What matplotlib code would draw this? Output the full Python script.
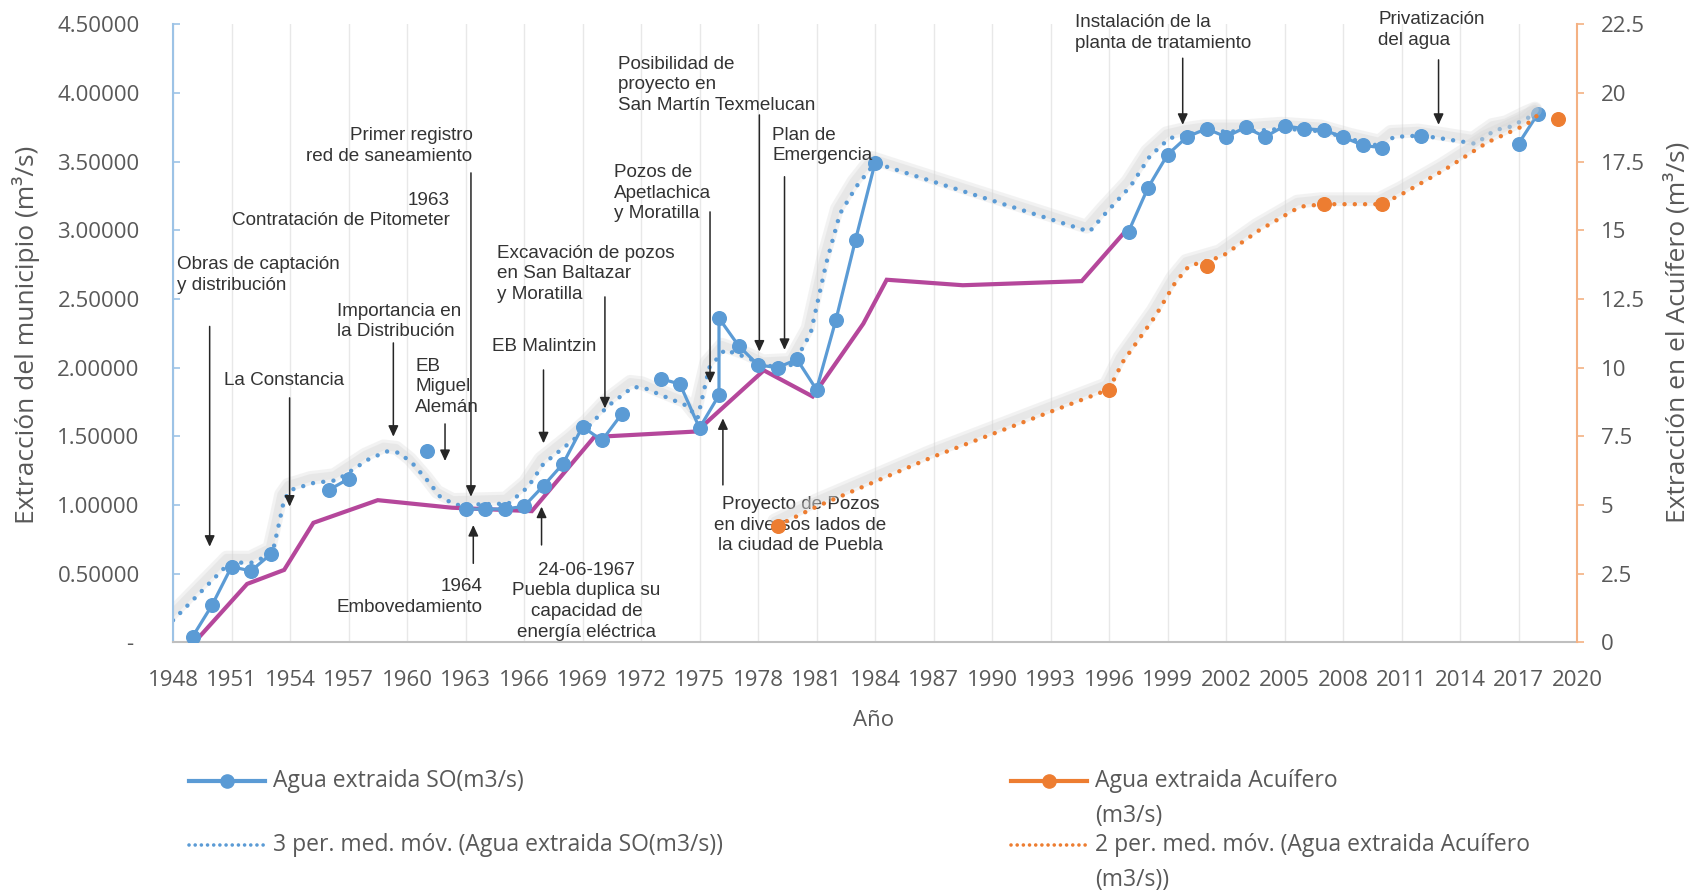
import numpy as np
import matplotlib
matplotlib.use("Agg")
import matplotlib.pyplot as plt
import matplotlib.transforms as mtransforms
from matplotlib.lines import Line2D

nan = np.nan

# ---------------- data ----------------
# Agua extraída SO (m3/s), left axis; NaN breaks the line where years are missing
so_years = [1949, 1950, 1951, 1952, 1953, 1954, 1956, 1957, 1958, 1961, 1962,
            1963, 1964, 1965, 1966, 1967, 1968, 1969, 1970, 1971, 1972,
            1973, 1974, 1975, 1976, 1976, 1977, 1978, 1979, 1980, 1981,
            1982, 1983, 1984, 1990, 1997, 1998, 1999, 2000, 2001, 2002,
            2003, 2004, 2005, 2006, 2007, 2008, 2009, 2010, 2011, 2012,
            2013, 2017, 2018]
so_values = [0.04, 0.27, 0.55, 0.52, 0.64, nan, 1.11, 1.19, nan, 1.39, nan,
             0.97, 0.97, 0.97, 0.99, 1.14, 1.30, 1.57, 1.47, 1.66, nan,
             1.92, 1.88, 1.56, 1.80, 2.36, 2.16, 2.02, 2.00, 2.06, 1.84,
             2.35, 2.93, 3.49, nan, 2.99, 3.31, 3.55, 3.68, 3.74, 3.68,
             3.75, 3.68, 3.76, 3.74, 3.73, 3.68, 3.62, 3.60, nan, 3.69,
             nan, 3.63, 3.85]

# 3 per. med. móv. (Agua extraída SO)
so_ma_years = [1948.0, 1950.9, 1952.1, 1953.1, 1953.4, 1953.7, 1954.05, 1955.2,
               1956.4, 1958.0, 1958.95, 1959.6, 1960.3, 1961.1, 1961.7, 1962.5,
               1965.2, 1966.2, 1967.0, 1968.5, 1969.3, 1970.3, 1971.6, 1972.2,
               1973.2, 1974.4, 1974.9, 1975.5, 1976.3, 1977.5, 1978.4, 1979.8,
               1980.7, 1981.5, 1982.2, 1983.05, 1984.0, 1995.0, 1995.8, 1997.1,
               1998.1, 1999.1, 2000.0, 2001.0, 2003.0, 2005.0, 2007.0, 2008.5,
               2010.0, 2010.6, 2012.0, 2013.0, 2014.8, 2015.8, 2016.5, 2017.5,
               2018.0]
so_ma_values = [0.16, 0.58, 0.58, 0.65, 0.84, 1.04, 1.11, 1.16,
                1.18, 1.33, 1.39, 1.38, 1.30, 1.17, 1.06, 1.00,
                1.01, 1.13, 1.30, 1.47, 1.57, 1.72, 1.86, 1.85,
                1.79, 1.72, 1.63, 2.00, 2.13, 2.07, 2.01, 2.02,
                2.25, 2.76, 3.12, 3.32, 3.49, 2.99, 3.12, 3.32,
                3.54, 3.67, 3.70, 3.72, 3.72, 3.74, 3.72, 3.66,
                3.61, 3.68, 3.69, 3.67, 3.63, 3.73, 3.75, 3.82,
                3.85]

# Agua extraída Acuífero (m3/s), right axis
aq_years = [1979, 1996, 2001, 2007, 2010, 2019]
aq_values = [4.25, 9.2, 13.7, 15.95, 15.95, 19.05]

# 2 per. med. móv. (Agua extraída Acuífero)
aq_ma_years = [1979.0, 1981.1, 1987.0, 1995.6, 1996.0, 1996.7, 1998.4, 1999.4,
               2000.1, 2001.8, 2003.7, 2005.8, 2007.0, 2010.0, 2011.1, 2013.2,
               2015.4, 2017.4, 2018.0]
aq_ma_values = [4.25, 4.97, 6.76, 9.10, 9.21, 10.2, 11.9, 13.1,
                13.7, 14.05, 15.0, 15.86, 15.95, 15.95, 16.35, 17.2,
                18.2, 18.85, 19.2]

# Magenta reference line, left axis
ref_years = [1949.1, 1951.8, 1953.7, 1955.2, 1958.5, 1962.3, 1966.4, 1969.6,
             1974.85, 1978.3, 1980.8, 1983.4, 1984.6, 1988.5, 1994.6, 1996.7]
ref_values = [0.0, 0.425, 0.527, 0.87, 1.035, 0.98, 0.955, 1.495,
              1.535, 1.98, 1.79, 2.32, 2.64, 2.60, 2.63, 2.97]

year_ticks = [1948, 1951, 1954, 1957, 1960, 1963, 1966, 1969, 1972, 1975,
              1978, 1981, 1984, 1987, 1990, 1993, 1996, 1999, 2002, 2005,
              2008, 2011, 2014, 2017, 2020]
left_ticks = [0, 0.5, 1.0, 1.5, 2.0, 2.5, 3.0, 3.5, 4.0, 4.5]
left_tick_labels = ["- ", "0.50000", "1.00000", "1.50000", "2.00000",
                    "2.50000", "3.00000", "3.50000", "4.00000", "4.50000"]
right_ticks = [0, 2.5, 5, 7.5, 10, 12.5, 15, 17.5, 20, 22.5]
right_tick_labels = ["0", "2.5", "5", "7.5", "10", "12.5", "15", "17.5",
                     "20", "22.5"]

# event notes: (text, year, value, horizontal alignment)
notes = [
    ("Obras de captación\ny distribución", 1948.19, 2.673, "left"),
    ("La Constancia", 1953.69, 1.903, "center"),
    ("1963\nContratación de Pitometer", 1962.2, 3.143, "right"),
    ("Primer registro\nred de saneamiento", 1963.36, 3.616, "right"),
    ("Importancia en\nla Distribución", 1956.4, 2.335, "left"),
    ("EB\nMiguel\nAlemán", 1960.42, 1.86, "left"),
    ("1964\nEmbovedamiento", 1963.85, 0.332, "right"),
    ("EB Malintzin", 1967.03, 2.153, "center"),
    ("24-06-1967\nPuebla duplica su\ncapacidad de\nenergía eléctrica", 1969.2, 0.30, "center"),
    ("Excavación de pozos\nen San Baltazar\ny Moratilla", 1964.64, 2.682, "left"),
    ("Pozos de\nApetlachica\ny Moratilla", 1970.63, 3.269, "left"),
    ("Posibilidad de\nproyecto en\nSan Martín Texmelucan", 1970.83, 4.06, "left"),
    ("Plan de\nEmergencia", 1978.72, 3.618, "left"),
    ("Proyecto de Pozos\nen diversos lados de\nla ciudad de Puebla", 1980.18, 0.854, "center"),
    ("Instalación de la\nplanta de tratamiento", 1994.28, 4.438, "left"),
    ("Privatización\ndel agua", 2009.82, 4.457, "left"),
]
# arrows: (year, value at tail, value at head)
arrows = [
    (1949.88, 2.30, 0.696),
    (1953.98, 1.78, 0.988),
    (1963.28, 3.418, 1.06),
    (1959.3, 2.18, 1.497),
    (1961.95, 1.59, 1.32),
    (1963.4, 0.575, 0.854),
    (1967.0, 1.983, 1.449),
    (1966.9, 0.709, 0.988),
    (1970.15, 2.515, 1.703),
    (1975.54, 3.134, 1.886),
    (1978.07, 3.84, 2.117),
    (1979.36, 3.39, 2.129),
    (1976.2, 1.146, 1.631),
    (1999.78, 4.253, 3.768),
    (2012.9, 4.241, 3.768),
]

# ---------------- styling ----------------
BLUE = "#5B9BD5"
ORANGE = "#ED7D31"
MAGENTA = "#B5479B"
GRAY_TXT = "#595959"
NOTE_TXT = "#333333"

plt.rcParams["font.family"] = ["Open Sans", "DejaVu Sans"]

W, H = 1696, 890
fig = plt.figure(figsize=(W / 100, H / 100), dpi=100)
ax = fig.add_axes([173 / W, 1 - 642.3 / H, (1577 - 173) / W, (642.3 - 24.3) / H])
ax.set_xlim(1948, 2020)
ax.set_ylim(0, 4.5)
ax2 = ax.twinx()
ax2.set_ylim(0, 22.5)

# axes frame
for s in ("top", "right"):
    ax.spines[s].set_visible(False)
ax.spines["left"].set_color("#9DC3E6")
ax.spines["left"].set_linewidth(1.5)
ax.spines["bottom"].set_color("#BFBFBF")
ax.spines["bottom"].set_linewidth(1.5)
for s in ("top", "left", "bottom"):
    ax2.spines[s].set_visible(False)
ax2.spines["right"].set_color("#F4B183")
ax2.spines["right"].set_linewidth(1.5)

ax.set_xticks(year_ticks)
ax.set_xticklabels([str(y) for y in year_ticks])
ax.grid(axis="x", color="#E8E8E8", lw=1.0)
ax.set_axisbelow(True)
ax.tick_params(axis="x", length=0, pad=20, labelsize=16, labelcolor=GRAY_TXT)
ax.set_yticks(left_ticks)
ax.set_yticklabels(left_tick_labels)
ax.tick_params(axis="y", direction="in", length=5, width=1.2, color="#9DC3E6",
               pad=24, labelsize=16, labelcolor=GRAY_TXT)
ax2.set_yticks(right_ticks)
ax2.set_yticklabels(right_tick_labels)
ax2.tick_params(axis="y", direction="out", length=5, width=1.2, color="#F4B183",
                pad=12, labelsize=16, labelcolor=GRAY_TXT)


def halo(axis, xs, ys):
    tr = mtransforms.offset_copy(axis.transData, fig=fig, x=-3, y=5, units="dots")
    axis.plot(xs, ys, color="#CFCFCF", lw=10, alpha=0.25, transform=tr,
              solid_capstyle="round", solid_joinstyle="round", zorder=1)
    axis.plot(xs, ys, color="#D5D5D5", lw=5.5, alpha=0.35, transform=tr,
              solid_capstyle="round", solid_joinstyle="round", zorder=1)


DOTS = (0, (0.01, 2.3))

# left-axis series
halo(ax, so_ma_years, so_ma_values)
ax.plot(so_ma_years, so_ma_values, color=BLUE, lw=3.2, linestyle=DOTS,
        dash_capstyle="round", zorder=2)
ax.plot(ref_years, ref_values, color=MAGENTA, lw=3.0, zorder=3,
        solid_joinstyle="miter")
ax.plot(so_years, so_values, color=BLUE, lw=2.3, marker="o", markersize=9.8,
        zorder=4)

# right-axis series
halo(ax2, aq_ma_years, aq_ma_values)
ax2.plot(aq_ma_years, aq_ma_values, color=ORANGE, lw=3.2, linestyle=DOTS,
         dash_capstyle="round", zorder=2)
ax2.plot(aq_years, aq_values, linestyle="none", marker="o", markersize=9.8,
         color=ORANGE, zorder=4)

# event notes and arrows
for text, x, y, ha in notes:
    ax.text(x, y, text, ha=ha, va="center", multialignment=ha, fontsize=13.6,
            family=["Liberation Sans", "DejaVu Sans"], color=NOTE_TXT,
            linespacing=1.28, zorder=6, clip_on=False)
for x, y0, y1 in arrows:
    ax.annotate("", xy=(x, y1), xytext=(x, y0),
                arrowprops=dict(arrowstyle="-|>,head_length=0.65,head_width=0.3",
                                color="#262626", lw=1.1, shrinkA=0, shrinkB=0,
                                mutation_scale=10), zorder=6)

# axis titles
fig.text(26 / W, 1 - 335 / H, "Extracción del municipio (m³/s)", rotation=90,
         ha="center", va="center", fontsize=19, color=GRAY_TXT)
fig.text(1677 / W, 1 - 332 / H, "Extracción en el Acuífero (m³/s)", rotation=90,
         ha="center", va="center", fontsize=19, color=GRAY_TXT)
fig.text(874 / W, 1 - 721 / H, "Año", ha="center", va="center", fontsize=16,
         color=GRAY_TXT)

# legend
def fx(px):
    return px / W


def fy(px):
    return 1 - px / H


legend_rows = [
    (189, 781, BLUE, True, ["Agua extraida SO(m3/s)"]),
    (1011, 781, ORANGE, True, ["Agua extraida Acuífero", "(m3/s)"]),
    (189, 845, BLUE, False, ["3 per. med. móv. (Agua extraida SO(m3/s))"]),
    (1011, 845, ORANGE, False, ["2 per. med. móv. (Agua extraida Acuífero", "(m3/s))"]),
]
for x0, y0, col, with_marker, lines in legend_rows:
    if with_marker:
        fig.add_artist(Line2D([fx(x0), fx(x0 + 76)], [fy(y0), fy(y0)], color=col,
                              lw=3.0, transform=fig.transFigure))
        fig.add_artist(Line2D([fx(x0 + 38)], [fy(y0)], color=col, marker="o",
                              markersize=9.5, transform=fig.transFigure))
    else:
        fig.add_artist(Line2D([fx(x0), fx(x0 + 76)], [fy(y0), fy(y0)], color=col,
                              lw=2.6, linestyle=(0, (0.01, 1.7)),
                              dash_capstyle="round", transform=fig.transFigure))
    for i, s in enumerate(lines):
        fig.text(fx(x0 + 84), fy(y0 + 35 * i), s, ha="left", va="center",
                 fontsize=16.5, color=GRAY_TXT)

fig.savefig("out.png", dpi=100, facecolor="white")
